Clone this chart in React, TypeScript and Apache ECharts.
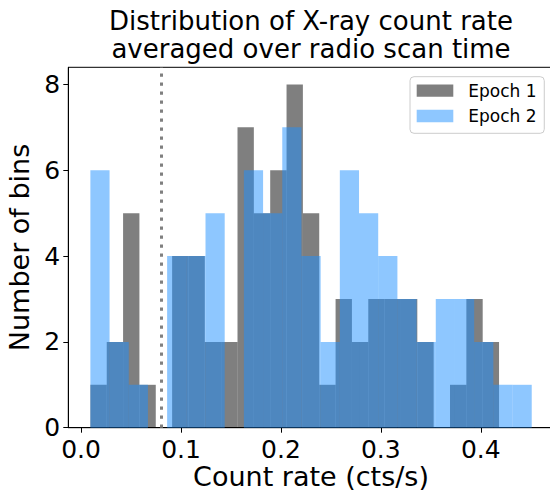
import React, { useEffect, useRef } from 'react';
import * as echarts from 'echarts';

// ---- data ----
const epoch1Name = 'Epoch 1';
const epoch2Name = 'Epoch 2';
// histogram ranges [first edge, last edge] and bin counts
const epoch1Range = [0.0093, 0.4183];
const epoch1Counts = [1, 2, 5, 1, 0, 4, 4, 2, 2, 7, 5, 6, 8, 5, 1, 3, 2, 3, 3, 3, 2, 0, 1, 3, 2];
const epoch2Range = [0.0093, 0.451];
const epoch2Counts = [6, 2, 1, 0, 4, 4, 5, 0, 6, 5, 7, 4, 2, 6, 5, 4, 3, 2, 3, 3, 2, 1, 1];
const thresholdRate = 0.08;
const xTicks = [0, 0.1, 0.2, 0.3, 0.4];
const yTicks = [0, 2, 4, 6, 8];
const xExtent = [-0.0128, 0.473];
const yExtent = [0, 8.4];
const titleLines = ['Distribution of X-ray count rate', 'averaged over radio scan time'];
const xLabel = 'Count rate (cts/s)';
const yLabel = 'Number of bins';

const FONT = "'DejaVu Sans', sans-serif";

function toBins(range: number[], counts: number[]) {
  const w = (range[1] - range[0]) / counts.length;
  return counts.map((c, i) => [range[0] + i * w, range[0] + (i + 1) * w, c]);
}

const renderBar = (params: any, api: any) => {
  const h = api.value(2);
  const tl = api.coord([api.value(0), h]);
  const br = api.coord([api.value(1), 0]);
  return {
    type: 'rect',
    shape: { x: tl[0], y: tl[1], width: br[0] - tl[0], height: br[1] - tl[1] },
    style: { fill: api.visual('color') },
  };
};

export default function App() {
  const ref = useRef<HTMLDivElement>(null);
  useEffect(() => {
    if (!ref.current) return;
    const chart = echarts.init(ref.current, undefined, { renderer: 'svg' });
    chart.setOption({
      animation: false,
      backgroundColor: '#fff',
      title: {
        text: titleLines.join('\n'),
        left: 311,
        top: 7,
        textAlign: 'center',
        padding: 0,
        textStyle: { fontFamily: FONT, fontSize: 26, fontWeight: 'normal', color: '#000', lineHeight: 28 },
      },
      grid: {
        left: 68.3,
        right: 2.3,
        top: 67.3,
        bottom: 66.3,
        outerBoundsMode: 'none',
        containLabel: false,
        show: true,
        borderColor: '#000',
        borderWidth: 1,
        backgroundColor: 'transparent',
      },
      legend: {
        orient: 'vertical',
        left: 410,
        top: 76.7,
        padding: [5.4, 7.7, 8.8, 6.7],
        itemWidth: 36.6,
        itemHeight: 12.4,
        itemGap: 8.4,
        icon: 'rect',
        backgroundColor: 'rgba(255,255,255,0.8)',
        borderColor: '#cccccc',
        borderWidth: 1,
        borderRadius: 4,
        textStyle: { fontFamily: FONT, fontSize: 17, color: '#000', padding: [0, 0, 0, 10] },
        data: [epoch1Name, epoch2Name],
      },
      xAxis: {
        type: 'value',
        min: xExtent[0],
        max: xExtent[1],
        axisLine: { show: true, onZero: false, lineStyle: { color: '#000', width: 1 } },
        axisTick: { show: true, length: 5, customValues: xTicks, lineStyle: { color: '#000', width: 1 } },
        axisLabel: {
          customValues: xTicks,
          formatter: (v: number) => v.toFixed(1),
          fontFamily: FONT,
          fontSize: 25,
          color: '#000',
          margin: 9,
        },
        splitLine: { show: false },
        name: xLabel,
        nameLocation: 'middle',
        nameGap: 35.3,
        nameMoveOverlap: false,
        nameTextStyle: { fontFamily: FONT, fontSize: 27, lineHeight: 27, color: '#000' },
      },
      yAxis: {
        type: 'value',
        min: yExtent[0],
        max: yExtent[1],
        axisLine: { show: true, onZero: false, lineStyle: { color: '#000', width: 1 } },
        axisTick: { show: true, length: 5, customValues: yTicks, lineStyle: { color: '#000', width: 1 } },
        axisLabel: {
          customValues: yTicks,
          formatter: (v: number) => String(v),
          fontFamily: FONT,
          fontSize: 25,
          color: '#000',
          margin: 8.1,
        },
        splitLine: { show: false },
        name: yLabel,
        nameLocation: 'middle',
        nameGap: 34,
        nameTextStyle: { fontFamily: FONT, fontSize: 27, color: '#000' },
      },
      series: [
        {
          name: epoch1Name,
          type: 'custom',
          color: 'rgba(0,0,0,0.5)',
          renderItem: renderBar,
          encode: { x: [0, 1], y: 2 },
          data: toBins(epoch1Range, epoch1Counts),
          z: 2,
          markLine: {
            silent: true,
            symbol: ['none', 'none'],
            label: { show: false },
            lineStyle: { color: '#808080', width: 3, type: [3.3, 5.7] },
            data: [{ xAxis: thresholdRate }],
          },
        },
        {
          name: epoch2Name,
          type: 'custom',
          color: 'rgba(30,144,255,0.5)',
          renderItem: renderBar,
          encode: { x: [0, 1], y: 2 },
          data: toBins(epoch2Range, epoch2Counts),
          z: 3,
        },
      ],
    });
    return () => chart.dispose();
  }, []);
  return (
    <div style={{ position: 'fixed', left: 0, top: 0, width: 550, height: 494, overflow: 'hidden', background: '#fff' }}>
      <div ref={ref} style={{ width: 556, height: 494 }} />
    </div>
  );
}
